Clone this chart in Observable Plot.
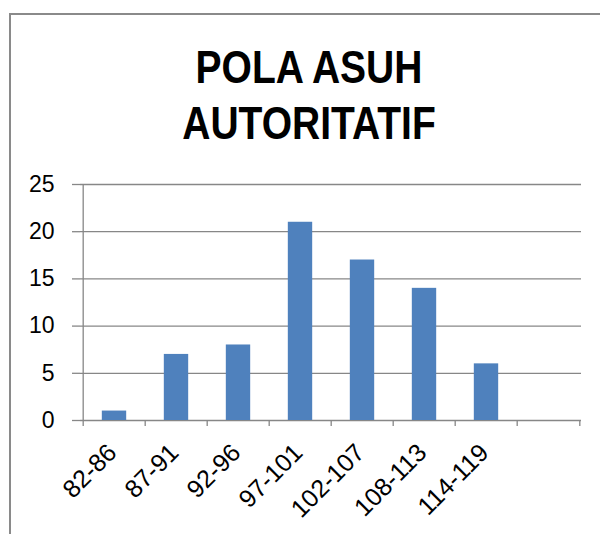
<!DOCTYPE html>
<html>
<head>
<meta charset="utf-8">
<script src="https://cdn.jsdelivr.net/npm/d3@7"></script>
<script src="https://cdn.jsdelivr.net/npm/@observablehq/plot@0.6"></script>
<style>
  html, body { margin: 0; padding: 0; background: #fff; width: 600px; height: 534px; overflow: hidden; }
  #frame { position: absolute; left: 9px; top: 13px; width: 700px; height: 700px; border: 2px solid #8a8a8a; box-sizing: border-box; }
  #title { position: absolute; left: 9px; top: 39px; width: 600px; text-align: center;
           font-family: "Liberation Sans", Arial, sans-serif; font-weight: bold; font-size: 47px;
           line-height: 56px; color: #000; transform: scaleX(0.83); transform-origin: 300px 0; }
  #chart { position: absolute; left: 0; top: 160px; }
</style>
</head>
<body>
<div id="frame"></div>
<div id="title">POLA ASUH<br>AUTORITATIF</div>
<div id="chart"></div>
<script>
const categories = ["82-86", "87-91", "92-96", "97-101", "102-107", "108-113", "114-119", ""];
const barCategories = ["82-86", "87-91", "92-96", "97-101", "102-107", "108-113", "114-119"];
const values = [1, 7, 8, 21, 17, 14, 6];
const yTicks = [0, 5, 10, 15, 20, 25];

const data = barCategories.map((c, i) => ({category: c, value: values[i]}));

const width = 600, height = 374;
const marginLeft = 80, marginRight = 19, marginTop = 24, marginBottom = 114;
const bw = (width - marginLeft - marginRight) / categories.length;
const barWidth = 25;
const inset = (bw - barWidth) / 2;
const gridColor = "#878787";

const chart = Plot.plot({
  width, height, marginLeft, marginRight, marginTop, marginBottom,
  style: {fontFamily: "'Liberation Sans', Arial, sans-serif", color: "#000", background: "transparent"},
  x: {domain: categories, padding: 0, label: null},
  y: {domain: [0, 25], label: null},
  marks: [
    Plot.gridY(yTicks, {stroke: gridColor, strokeOpacity: 1, strokeWidth: 1.3}),
    Plot.axisY(yTicks, {tickSize: 8, tickPadding: 18, stroke: gridColor, strokeWidth: 1.3, fontSize: 23, fill: "#000", label: null}),
    Plot.barY(data, {x: "category", y: "value", fill: "#4f81bd", insetLeft: inset, insetRight: inset}),
    Plot.ruleX(categories, {x: d => d, dx: -bw / 2, y1: d => d === categories[0] ? 25 : 0, y2: () => 0, insetBottom: -6, stroke: gridColor, strokeWidth: 1.3}),
    Plot.ruleX([categories[categories.length - 1]], {x: d => d, dx: bw / 2, y1: () => 0, y2: () => 0, insetBottom: -6, stroke: gridColor, strokeWidth: 1.3}),
    Plot.axisX({tickSize: 0, tickPadding: 28, tickRotate: -45, fontSize: 25, fill: "#000", label: null, dx: -2})
  ]
});
document.getElementById("chart").appendChild(chart);
</script>
</body>
</html>
